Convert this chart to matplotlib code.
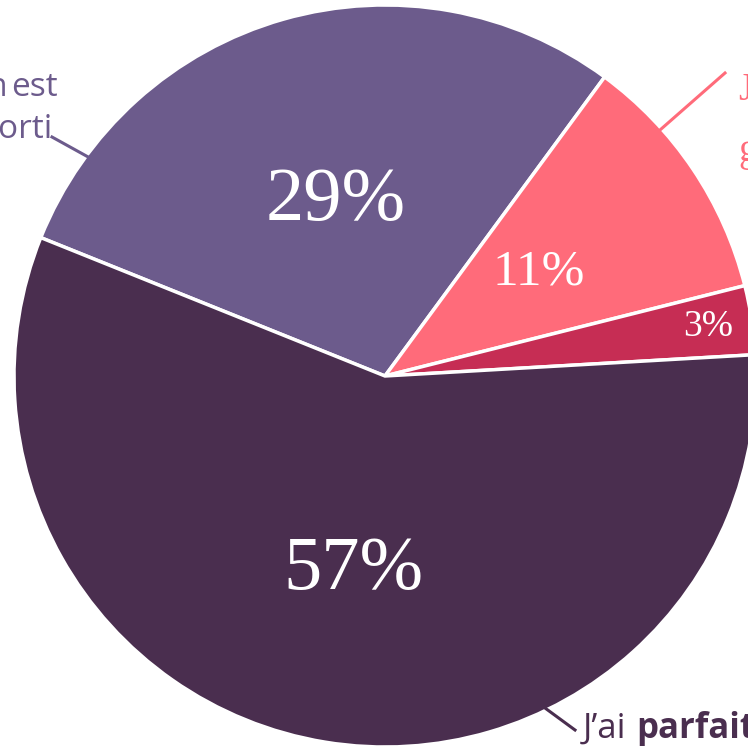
"""Pie chart: share of answers, cropped view."""

import matplotlib
matplotlib.use("Agg")
import matplotlib.pyplot as plt
import numpy as np

# slices, clockwise from the upper-left boundary
shares = [29, 11, 3, 57]
colors = ["#6c5b8c", "#ff6b7a", "#c62d54", "#4a2e4f"]
pct_labels = ["29%", "11%", "3%", "57%"]
pct_sizes = [55, 37, 27, 55]
pct_dist = [0.49, 0.50, 0.88, 0.53]

W, H = 748, 746
fig = plt.figure(figsize=(W / 100, H / 100), dpi=100)
ax = fig.add_axes([0, 0, 1, 1])

center = (385, 370)
radius = 371
start = 158.1

wedges, _ = ax.pie(
    shares,
    colors=colors,
    startangle=start,
    counterclock=False,
    center=center,
    radius=radius,
    wedgeprops=dict(edgecolor="white", linewidth=2.5),
)

for w, txt, size, dist in zip(wedges, pct_labels, pct_sizes, pct_dist):
    mid = np.deg2rad((w.theta1 + w.theta2) / 2)
    x = center[0] + dist * radius * np.cos(mid)
    y = center[1] + dist * radius * np.sin(mid)
    ax.text(x, y, txt, ha="center", va="center", color="white",
            fontsize=size, family="Liberation Serif")

# outer labels (mostly off-canvas in the crop)
ax.plot([52, 90], [609, 588], color="#6c5b8c", lw=2.2)
ax.text(58, 659, "est", ha="right", va="center", color="#6c5b8c",
        fontsize=24, family="Open Sans")
ax.text(8, 659, "on", ha="right", va="center", color="#6c5b8c",
        fontsize=24, family="Open Sans")
ax.text(52, 616, "sorti", ha="right", va="center", color="#6c5b8c",
        fontsize=24, family="Open Sans")

ax.plot([660, 725], [616, 673], color="#ff6b7a", lw=2.2)
ax.text(738, 655, "J", ha="left", va="center", color="#ff6b7a",
        fontsize=28, family="Liberation Serif")
ax.text(738, 595, "g", ha="left", va="center", color="#ff6b7a",
        fontsize=28, family="Liberation Serif")

ax.plot([545, 575], [38, 16], color="#4a2e4f", lw=2.2)
ax.text(583, 8, "J\u2019ai", ha="left", va="baseline", color="#4a2e4f",
        fontsize=25, family="Open Sans")
ax.text(636, 8, "parfaitement", ha="left", va="baseline", color="#4a2e4f",
        fontsize=25, family="Open Sans", fontweight="bold")

ax.set_xlim(0, W)
ax.set_ylim(0, H)
ax.set_aspect("auto")
ax.axis("off")

fig.savefig("out.png", dpi=100)
